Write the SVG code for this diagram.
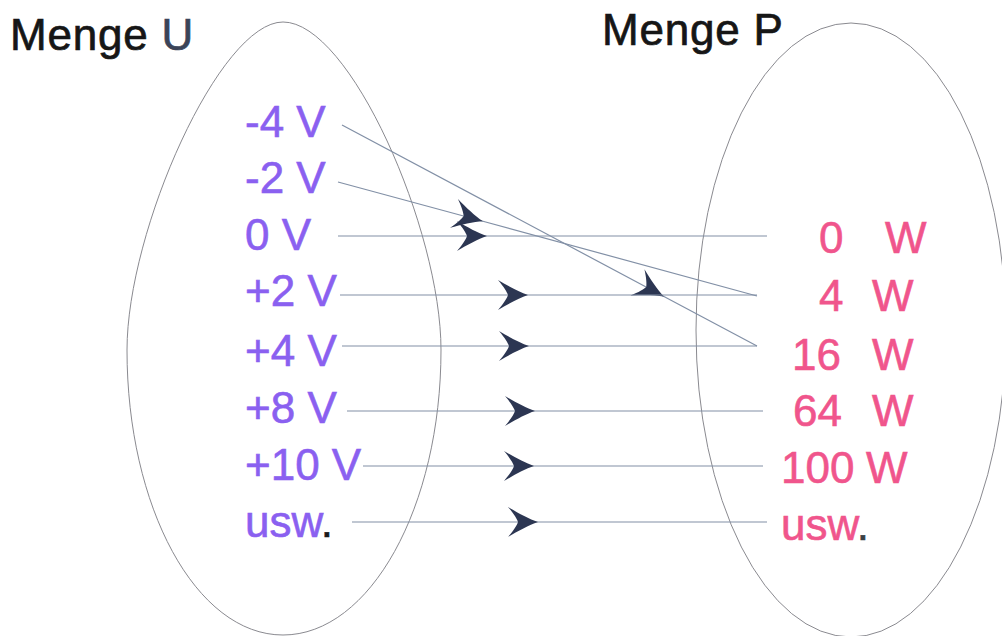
<svg xmlns="http://www.w3.org/2000/svg" width="1002" height="636" viewBox="0 0 1002 636">
<style>
  .set { fill: none; stroke: #8a8a90; stroke-width: 1; }
  .title { font-family: "Liberation Sans", Arial, sans-serif; font-size: 44px; fill: #161616; stroke: #161616; stroke-width: 0.7; letter-spacing: 0.8px; }
  .u { font-family: "Liberation Sans", Arial, sans-serif; font-size: 44px; fill: #8a60f0; stroke: #8a60f0; stroke-width: 0.6; }
  .p { font-family: "Liberation Sans", Arial, sans-serif; font-size: 44px; fill: #f0558c; stroke: #f0558c; stroke-width: 0.6; }
  .dot { fill: #1a1a1a; stroke: #1a1a1a; }
  .c { fill: none; stroke: #8290a6; stroke-width: 1.2; marker-mid: url(#ah); }
</style>
<defs>
  <marker id="ah" markerUnits="userSpaceOnUse" orient="auto" viewBox="-31 -16 33 32" refX="0" refY="0" markerWidth="33" markerHeight="32" overflow="visible">
    <path d="M1,0 C-8,-3 -19,-9 -29,-15 C-23,-8 -20,-3 -19,0 C-20,3 -23,8 -29,15 C-19,9 -8,3 1,0 Z" fill="#2c3652"/>
  </marker>
</defs>
<rect width="1002" height="636" fill="#ffffff"/>

<g id="set-u">
  <path class="set" d="M127,350 C127,230 220,22 283,22 C350,22 441,230 441,350 C441,507 370,635 283,635 C196,635 127,507 127,350 Z"/>
  <text class="title" x="10" y="50">Menge <tspan fill="#3a4458" stroke="#3a4458">U</tspan></text>
</g>
<g id="set-p">
  <ellipse class="set" cx="851" cy="330" rx="155" ry="307"/>
  <text class="title" x="602" y="45">Menge P</text>
</g>

<g id="connectors">
  <polyline class="c" points="342,125 663,296 757,346"/>
  <polyline class="c" points="338,182 482,221 757,296"/>
  <polyline class="c" points="338,236 486,236 767,236"/>
  <polyline class="c" points="340,295 527,295 757,295"/>
  <polyline class="c" points="342,346 528,346 757,346"/>
  <polyline class="c" points="347,411 534,411 763,411"/>
  <polyline class="c" points="363,466 533,466 763,466"/>
  <polyline class="c" points="352,522 537,522 767,522"/>
</g>

<g id="u-values">
  <text id="u-m4" class="u" x="245" y="137">-4 V</text>
  <text id="u-m2" class="u" x="245" y="193">-2 V</text>
  <text id="u-0" class="u" x="245" y="250">0 V</text>
  <text id="u-p2" class="u" x="245" y="306">+2 V</text>
  <text id="u-p4" class="u" x="245" y="366">+4 V</text>
  <text id="u-p8" class="u" x="245" y="423">+8 V</text>
  <text id="u-p10" class="u" x="245" y="480">+10 V</text>
  <text id="u-usw" class="u" x="245" y="537">usw<tspan class="dot">.</tspan></text>
</g>

<g id="p-values">
  <text id="p-0" class="p" x="819" y="253">0 <tspan x="885">W</tspan></text>
  <text id="p-4" class="p" x="819" y="311">4 <tspan x="872">W</tspan></text>
  <text id="p-16" class="p" x="792" y="370">16 <tspan x="872">W</tspan></text>
  <text id="p-64" class="p" x="793" y="426">64 <tspan x="872">W</tspan></text>
  <text id="p-100" class="p" x="781" y="483">100 <tspan x="866">W</tspan></text>
  <text id="p-usw" class="p" x="781" y="540">usw<tspan fill="#3a3f44" stroke="#3a3f44">.</tspan></text>
</g>
</svg>
